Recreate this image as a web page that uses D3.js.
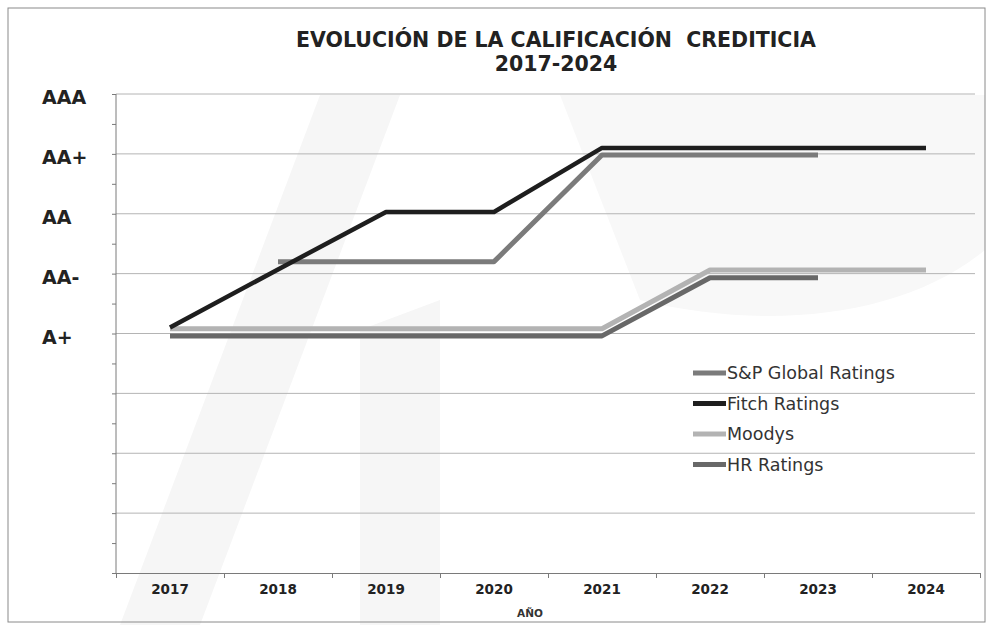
<!DOCTYPE html>
<html lang="es">
<head>
  <meta charset="UTF-8">
  <title>Evolución de la calificación crediticia 2017-2024</title>
  <script src="https://d3js.org/d3.v7.min.js"></script>
  <style>
    body, html {
      margin: 0;
      padding: 0;
      overflow: hidden;
      background: #fff;
    }
    svg {
      display: block;
      font-family: "DejaVu Sans", sans-serif;
    }
    .grid line {
      stroke: #b4b4b4;
      stroke-width: 1px;
    }
    .axis path, .axis line {
      stroke: #7a7a7a;
    }
    .ylabel {
      font-size: 19px;
      font-weight: bold;
      fill: #222;
    }
    .xlabel {
      font-size: 13.5px;
      font-weight: bold;
      fill: #222;
    }
    .legend text {
      font-size: 17.5px;
      fill: #333;
    }
  </style>
</head>
<body>
  <svg width="991" height="630"></svg>
  <script>
    // Data (rating scale: A+ = 4 ... AAA = 8)
    const years = ['2017', '2018', '2019', '2020', '2021', '2022', '2023', '2024'];
    const ratingTicks = [8, 7, 6, 5, 4];
    const ratingLabels = ['AAA', 'AA+', 'AA', 'AA-', 'A+'];

    const spValues = [null, 5.2, 5.2, 5.2, 6.98, 6.98, 6.98, null];
    const fitchValues = [4.1, 5.07, 6.03, 6.03, 7.1, 7.1, 7.1, 7.1];
    const moodysValues = [4.08, 4.08, 4.08, 4.08, 4.08, 5.06, 5.06, 5.06];
    const hrValues = [3.96, 3.96, 3.96, 3.96, 3.96, 4.93, 4.93, null];

    const seriesNames = ['S&P Global Ratings', 'Fitch Ratings', 'Moodys', 'HR Ratings'];
    const seriesColors = ['#7b7b7b', '#1e1e1e', '#b3b3b3', '#686868'];
    const seriesValues = [spValues, fitchValues, moodysValues, hrValues];

    const svg = d3.select('svg');

    // faint scanned watermark shapes in the background
    const wm = svg.append('g').attr('fill', '#f6f6f6');
    wm.append('path').attr('d', 'M120,625 L200,625 L400,95 L320,95 Z');
    wm.append('path').attr('d', 'M360,625 L440,625 L440,300 L360,330 Z');
    wm.append('path').attr('d', 'M560,95 L985,95 L985,250 C900,320 760,330 640,300 Z').attr('fill', '#f8f8f8');

    // frame
    svg.append('rect')
      .attr('x', 8).attr('y', 8)
      .attr('width', 977).attr('height', 614)
      .attr('fill', 'none')
      .attr('stroke', '#8a8a8a')
      .attr('stroke-width', 1);

    const x = d3.scaleBand().domain(years).range([116, 980]);
    const y = d3.scaleLinear().domain([0, 8]).range([573, 94]);

    // horizontal gridlines
    svg.append('g')
      .attr('class', 'grid')
      .selectAll('line')
      .data(d3.range(1, 9))
      .join('line')
      .attr('x1', 116)
      .attr('x2', 975)
      .attr('y1', (d) => y(d))
      .attr('y2', (d) => y(d));

    // y axis with half-step ticks, no tick text
    const yAxis = d3.axisLeft(y)
      .tickValues(d3.range(0, 8.5, 0.5))
      .tickSize(4)
      .tickFormat('');
    svg.append('g')
      .attr('class', 'axis')
      .attr('transform', 'translate(116,0)')
      .call(yAxis)
      .call((g) => g.select('.domain').attr('d', 'M0,' + y(8) + 'V' + y(0)));

    // rating labels
    svg.append('g')
      .selectAll('text')
      .data(ratingTicks)
      .join('text')
      .attr('class', 'ylabel')
      .attr('x', 42)
      .attr('y', (d) => y(d) + 10)
      .text((d, i) => ratingLabels[i]);

    // x axis: ticks at band edges
    const xAxis = d3.axisBottom(d3.scaleLinear().domain([0, 8]).range([116, 980]))
      .tickValues(d3.range(0, 9))
      .tickSize(5)
      .tickFormat('');
    svg.append('g')
      .attr('class', 'axis')
      .attr('transform', 'translate(0,573)')
      .call(xAxis);

    svg.append('g')
      .selectAll('text')
      .data(years)
      .join('text')
      .attr('class', 'xlabel')
      .attr('x', (d) => x(d) + x.bandwidth() / 2)
      .attr('y', 594)
      .attr('text-anchor', 'middle')
      .text((d) => d);

    svg.append('text')
      .attr('x', 530)
      .attr('y', 617)
      .attr('text-anchor', 'middle')
      .attr('font-size', 10.5)
      .attr('font-weight', 'bold')
      .attr('fill', '#333')
      .text('AÑO');

    // title
    const title = svg.append('text')
      .attr('text-anchor', 'middle')
      .attr('font-size', 20.5)
      .attr('font-weight', 'bold')
      .attr('fill', '#222');
    title.append('tspan').attr('x', 556).attr('y', 47)
      .attr('xml:space', 'preserve')
      .text('EVOLUCIÓN DE LA CALIFICACIÓN  CREDITICIA');
    title.append('tspan').attr('x', 556).attr('y', 71).text('2017-2024');

    // rating lines
    const line = d3.line()
      .defined((d) => d != null)
      .x((d, i) => x(years[i]) + x.bandwidth() / 2)
      .y((d) => y(d));

    const drawOrder = [2, 3, 0, 1];
    svg.append('g')
      .selectAll('path')
      .data(drawOrder)
      .join('path')
      .attr('d', (k) => line(seriesValues[k]))
      .attr('fill', 'none')
      .attr('stroke', (k) => seriesColors[k])
      .attr('stroke-width', (k) => (k === 1 ? 4.5 : 5))
      .attr('stroke-linejoin', 'round')
      .attr('stroke-linecap', 'butt');

    // legend
    const legend = svg.append('g').attr('class', 'legend');
    const item = legend.selectAll('g')
      .data(seriesNames)
      .join('g')
      .attr('transform', (d, i) => 'translate(693,' + (373 + i * 30.5) + ')');
    item.append('line')
      .attr('x1', 0).attr('x2', 33)
      .attr('stroke', (d, i) => seriesColors[i])
      .attr('stroke-width', 5);
    item.append('text')
      .attr('x', 34)
      .attr('y', 6)
      .text((d) => d);
  </script>
</body>
</html>
